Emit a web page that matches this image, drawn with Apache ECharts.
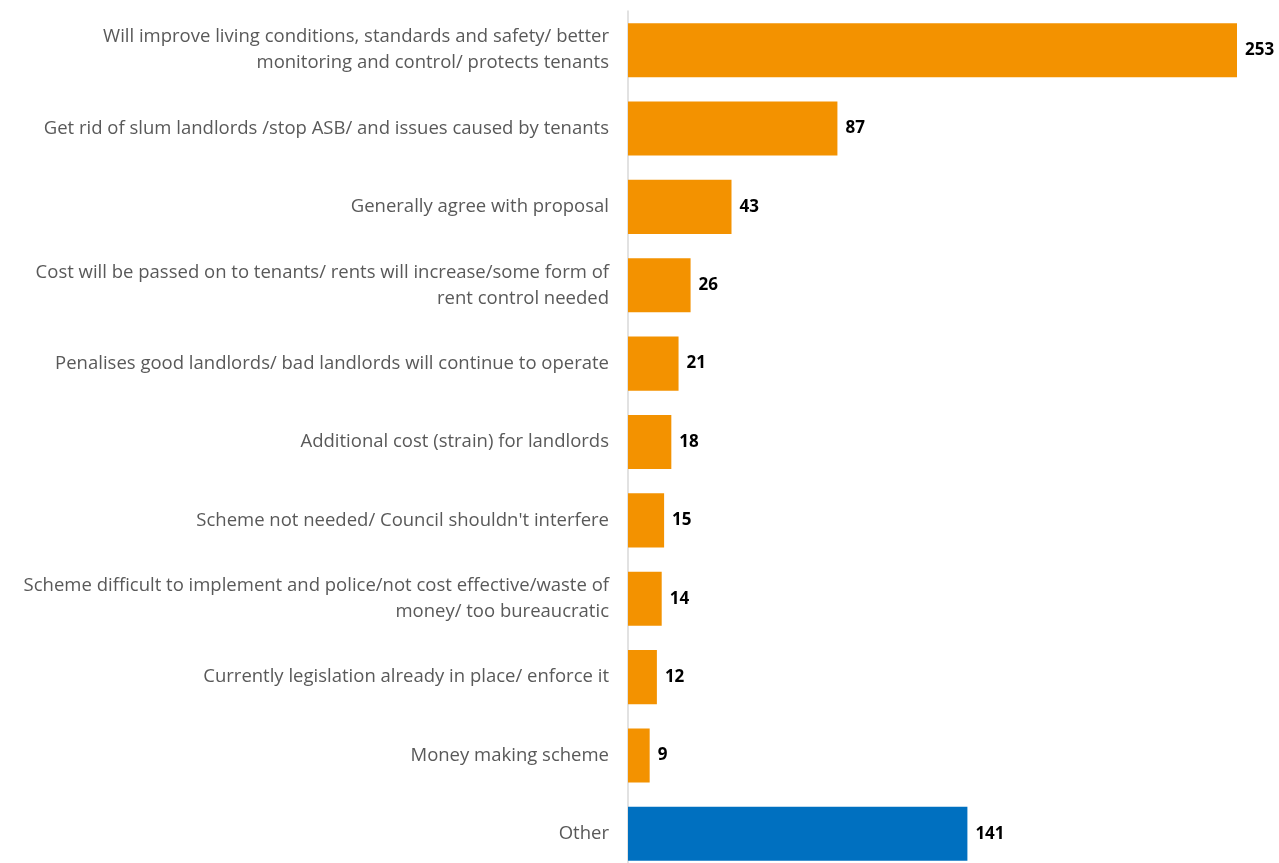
<!DOCTYPE html>
<html>
<head>
<meta charset="utf-8">
<script src="https://cdn.jsdelivr.net/npm/echarts@6/dist/echarts.min.js"></script>
<style>html,body{margin:0;padding:0;background:#fff;overflow:hidden}#c{width:1279px;height:874px}</style>
</head>
<body>
<div id="c"></div>
<script>
const categories = [
  "Will improve living conditions, standards and safety/ better\nmonitoring and control/ protects tenants",
  "Get rid of slum landlords /stop ASB/ and issues caused by tenants",
  "Generally agree with proposal",
  "Cost will be passed on to tenants/ rents will increase/some form of\nrent control needed",
  "Penalises good landlords/ bad landlords will continue to operate",
  "Additional cost (strain) for landlords",
  "Scheme not needed/ Council shouldn't interfere",
  "Scheme difficult to implement and police/not cost effective/waste of\nmoney/ too bureaucratic",
  "Currently legislation already in place/ enforce it",
  "Money making scheme",
  "Other"
];
const values = [253, 87, 43, 26, 21, 18, 15, 14, 12, 9, 141];
const highlight = ["Other"];

const chart = echarts.init(document.getElementById('c'), null, {renderer: 'canvas'});
chart.setOption({
  animation: false,
  grid: {left: 628, top: 11, width: 609, height: 862, containLabel: false},
  xAxis: {type: 'value', min: 0, max: 253, show: false},
  yAxis: {
    type: 'category', data: categories, inverse: true,
    axisLine: {show: true, lineStyle: {color: '#D9D9D9', width: 1.5}},
    axisTick: {show: false},
    axisLabel: {color: '#595959', fontFamily: 'Open Sans', fontSize: 18.5, lineHeight: 26, margin: 19, align: 'right'}
  },
  series: [{
    type: 'bar', barWidth: '69%',
    data: values.map((v, i) => ({value: v, itemStyle: {color: highlight.includes(categories[i]) ? '#0070C0' : '#F39200'}})),
    label: {show: true, position: 'right', distance: 8, color: '#000', fontWeight: 'bold', fontFamily: 'Open Sans', fontSize: 17}
  }]
});
</script>
</body>
</html>
